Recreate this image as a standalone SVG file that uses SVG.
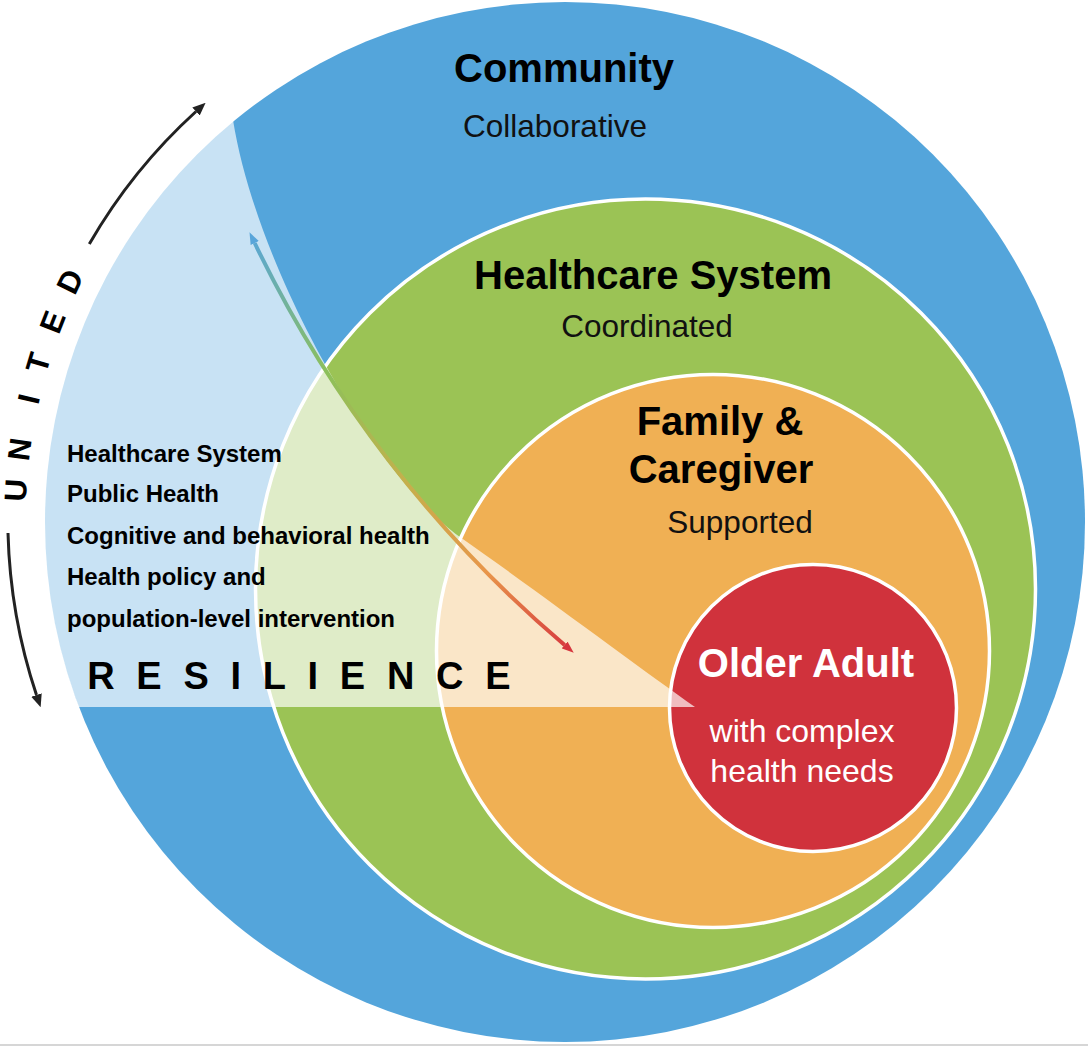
<svg xmlns="http://www.w3.org/2000/svg" width="1088" height="1046" viewBox="0 0 1088 1046">
<style>
.ring{stroke:#fff;stroke-width:3.5}
.h{font-family:"Liberation Sans",Arial,sans-serif;font-weight:bold;font-size:40px;fill:#000;text-anchor:middle}
.s{font-family:"Liberation Sans",Arial,sans-serif;font-size:31.5px;fill:#111;text-anchor:middle}
.w{fill:#fff}
.big{font-size:32px}
.list{font-family:"Liberation Sans",Arial,sans-serif;font-weight:bold;font-size:24px;fill:#000}
.u{font-family:"Liberation Sans",Arial,sans-serif;font-weight:bold;font-size:31px;fill:#000;text-anchor:middle}
.blk{fill:none;stroke:#222;stroke-width:3}
</style>
<defs>
<linearGradient id="grad" gradientUnits="userSpaceOnUse" x1="250" y1="233" x2="573" y2="652">
<stop offset="0" stop-color="#58A5DA"/>
<stop offset="0.3" stop-color="#8DC05A"/>
<stop offset="0.55" stop-color="#C4B04C"/>
<stop offset="0.78" stop-color="#E8964A"/>
<stop offset="1" stop-color="#D6363E"/>
</linearGradient>
<marker id="headBlue" viewBox="0 -5 12 10" refX="0" refY="0" markerWidth="12" markerHeight="10" markerUnits="userSpaceOnUse" orient="auto-start-reverse">
<path d="M0,-4.5 L12,0 L0,4.5 z" fill="#58A5DA"/>
</marker>
<marker id="headRed" viewBox="0 -5 12 10" refX="0" refY="0" markerWidth="12" markerHeight="10" markerUnits="userSpaceOnUse" orient="auto">
<path d="M0,-4.5 L12,0 L0,4.5 z" fill="#D6363E"/>
</marker>
<marker id="headBlack" viewBox="0 -6 13 12" refX="0" refY="0" markerWidth="13" markerHeight="12" markerUnits="userSpaceOnUse" orient="auto">
<path d="M0,-5.5 L13,0 L0,5.5 z" fill="#222"/>
</marker>
</defs>

<rect x="0" y="1044" width="1088" height="2" fill="#d6d6d6"/>

<g id="community">
<circle cx="565" cy="522" r="520" fill="#54A5DB"/>
<text class="h" x="564" y="82">Community</text>
<text class="s" x="555" y="137">Collaborative</text>
</g>

<g id="healthcare-system">
<circle class="ring" cx="645.5" cy="589" r="390" fill="#9BC355"/>
<text class="h" x="653" y="289">Healthcare System</text>
<text class="s" x="647" y="337">Coordinated</text>
</g>

<g id="family-caregiver">
<circle class="ring" cx="713" cy="651" r="276.5" fill="#F0B054"/>
<text class="h" x="720" y="435">Family &amp;</text>
<text class="h" x="721" y="483">Caregiver</text>
<text class="s" x="740" y="533">Supported</text>
</g>

<g id="older-adult">
<circle class="ring" cx="813" cy="708" r="143.5" fill="#D0323C"/>
<text class="h w" x="806" y="677">Older Adult</text>
<text class="s w big" x="802" y="742">with complex</text>
<text class="s w big" x="802" y="782">health needs</text>
</g>

<g id="resilience">
<path d="M78.6,707 A520,520 0 0 1 233,120 C258,275 380,481 460,537 C530,586 640,668 695,707 Z" fill="#fff" fill-opacity="0.68"/>
<text class="list" x="67" y="462">Healthcare System</text>
<text class="list" x="67" y="502">Public Health</text>
<text class="list" x="67" y="544">Cognitive and behavioral health</text>
<text class="list" x="67" y="585">Health policy and</text>
<text class="list" x="67" y="627">population-level intervention</text>
<text x="87.2" y="689" style="font-family:'Liberation Sans',Arial,sans-serif;font-weight:bold;font-size:38px;letter-spacing:21.7px;fill:#000">RESILIENCE</text>
</g>

<g id="united">
<text class="u" transform="translate(26.5,490.9) rotate(273.3)">U</text>
<text class="u" transform="translate(30.3,450.6) rotate(277.6)">N</text>
<text class="u" transform="translate(39.2,401.4) rotate(282.9)">I</text>
<text class="u" transform="translate(48.6,365.9) rotate(286.8)">T</text>
<text class="u" transform="translate(62.4,325.8) rotate(291.3)">E</text>
<text class="u" transform="translate(79.7,286.1) rotate(295.9)">D</text>
</g>

<g id="connectors">
<path d="M254.7,243 A1224,1224 0 0 0 564.6,645" fill="none" stroke="url(#grad)" stroke-width="4" marker-start="url(#headBlue)" marker-end="url(#headRed)"/>
<path class="blk" d="M89.3,244 A551,551 0 0 1 196,111.5" marker-end="url(#headBlack)"/>
<path class="blk" d="M8,533 A557,557 0 0 0 36.5,695" marker-end="url(#headBlack)"/>
</g>
</svg>
